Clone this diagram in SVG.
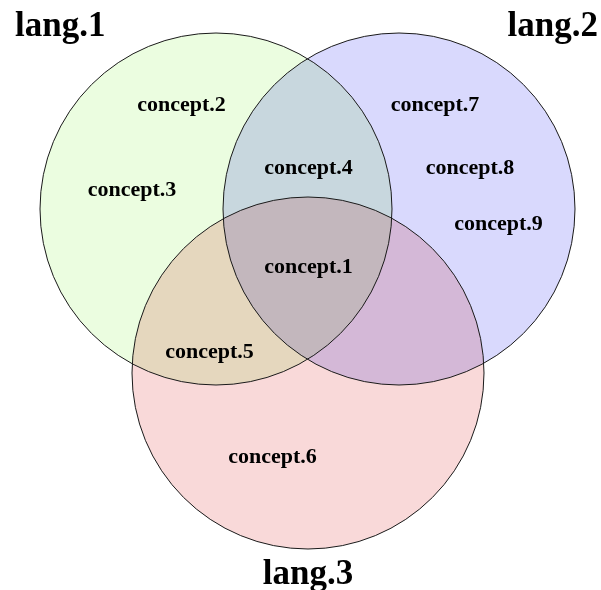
<svg xmlns="http://www.w3.org/2000/svg" width="601" height="590" viewBox="0 0 601 590">
  <style>
    .fill { mix-blend-mode: multiply; stroke: none; }
    .edge { fill: none; stroke: #1a1a1a; stroke-width: 1; }
    .title { font-family: "Liberation Serif", "Times New Roman", serif; font-weight: bold; font-size: 35px; fill: #000; }
    .lbl { font-family: "Liberation Serif", "Times New Roman", serif; font-weight: bold; font-size: 22px; fill: #000; text-anchor: middle; }
  </style>
  <defs>
    <circle id="c1" cx="216" cy="209" r="176"/>
    <circle id="c2" cx="399" cy="209" r="176"/>
    <circle id="c3" cx="308" cy="373" r="176"/>
  </defs>
  <rect width="601" height="590" fill="#fff"/>
  <g style="isolation:isolate">
    <g id="set-lang1">
      <use href="#c1" class="fill" fill="#ebfde0"/>
    </g>
    <g id="set-lang2">
      <use href="#c2" class="fill" fill="#d9d9fd"/>
    </g>
    <g id="set-lang3">
      <use href="#c3" class="fill" fill="#f9d9d9"/>
    </g>
  </g>
  <g id="outlines">
    <use href="#c1" class="edge"/>
    <use href="#c2" class="edge"/>
    <use href="#c3" class="edge"/>
  </g>
  <g id="titles">
    <text class="title" x="15" y="36">lang.1</text>
    <text class="title" x="598" y="36" text-anchor="end">lang.2</text>
    <text class="title" x="308" y="584" text-anchor="middle">lang.3</text>
  </g>
  <g id="labels">
    <text class="lbl" x="181.5" y="111">concept.2</text>
    <text class="lbl" x="132" y="196">concept.3</text>
    <text class="lbl" x="308.5" y="174">concept.4</text>
    <text class="lbl" x="435" y="111">concept.7</text>
    <text class="lbl" x="470" y="174">concept.8</text>
    <text class="lbl" x="498.5" y="230">concept.9</text>
    <text class="lbl" x="308.5" y="273">concept.1</text>
    <text class="lbl" x="209.5" y="358">concept.5</text>
    <text class="lbl" x="272.5" y="463">concept.6</text>
  </g>
</svg>
